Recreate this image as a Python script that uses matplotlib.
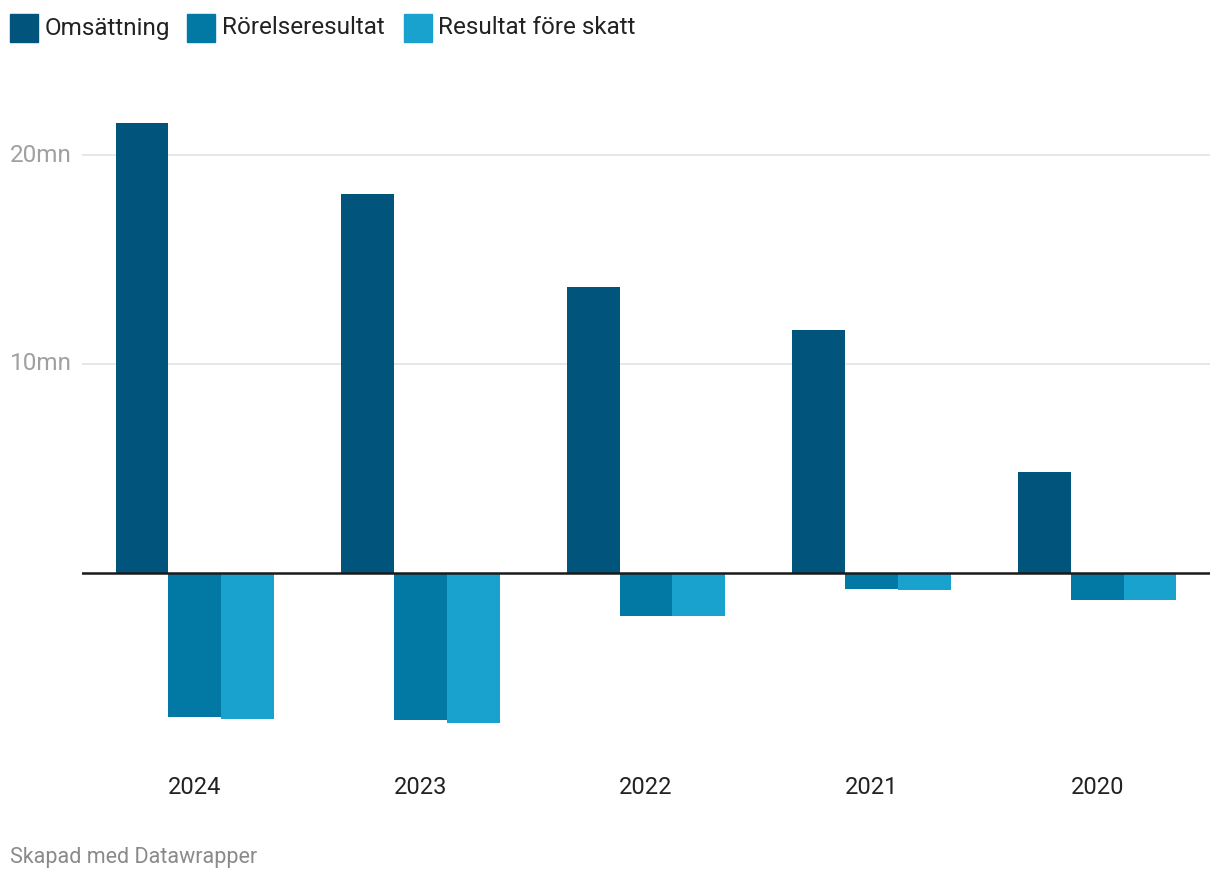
import matplotlib
matplotlib.use("Agg")
import matplotlib.pyplot as plt
from matplotlib.patches import Rectangle
import numpy as np

plt.rcParams['font.family'] = ['Roboto', 'DejaVu Sans']

years = ["2024", "2023", "2022", "2021", "2020"]
omsattning = [21.55, 18.15, 13.68, 11.63, 4.83]
rorelseresultat = [-6.89, -7.03, -2.06, -0.77, -1.29]
resultat_fore_skatt = [-6.99, -7.18, -2.06, -0.81, -1.29]

series = ["Omsättning", "Rörelseresultat", "Resultat före skatt"]
colors = ["#01547b", "#0278a4", "#1aa2cf"]

W, H = 1220, 882
fig = plt.figure(figsize=(W / 100, H / 100), dpi=100)

# axes placed in pixel terms: zero line at y=573, 10mn = 209 px
ymin, ymax = -8.2, 22.6
ax_left, ax_right = 82, 1210
ax_top = 573 - ymax * 20.9
ax_bot = 573 - ymin * 20.9
ax = fig.add_axes([ax_left / W, (H - ax_bot) / H,
                   (ax_right - ax_left) / W, (ax_bot - ax_top) / H])

x = np.arange(len(years))
bw = 0.234
for i, (vals, c) in enumerate(zip([omsattning, rorelseresultat, resultat_fore_skatt], colors)):
    ax.bar(x + (i - 1) * bw, vals, width=bw, color=c, zorder=2)

ax.set_xlim(-0.5, 4.5)
ax.set_ylim(ymin, ymax)

for v in [10, 20]:
    ax.axhline(v, color="#e3e3e3", lw=1.2, zorder=1)
    ax.text(-0.064, v, f"{v}mn", transform=ax.get_yaxis_transform(),
            ha="left", va="center", fontsize=17.5, color="#a0a0a0")
ax.axhline(0, color="#1a1a1a", lw=1.8, zorder=3)

ax.set_yticks([])
ax.set_xticks(x)
ax.set_xticklabels(years, fontsize=17, color="#222222")
ax.tick_params(axis="x", length=0, pad=23)
for s in ax.spines.values():
    s.set_visible(False)

# legend
leg = [(10, 45), (187, 222), (404, 438)]
for (sx, tx), name, c in zip(leg, series, colors):
    fig.patches.append(Rectangle((sx / W, 1 - 42 / H), 28 / W, 28 / H,
                                 transform=fig.transFigure, color=c))
    fig.text(tx / W, 1 - 28 / H, name, ha="left", va="center",
             fontsize=17.5, color="#222222")

fig.text(10 / W, 1 - 858 / H, "Skapad med Datawrapper", ha="left", va="center",
         fontsize=15.5, color="#8a8a8a")

fig.savefig("out.png", dpi=100)
